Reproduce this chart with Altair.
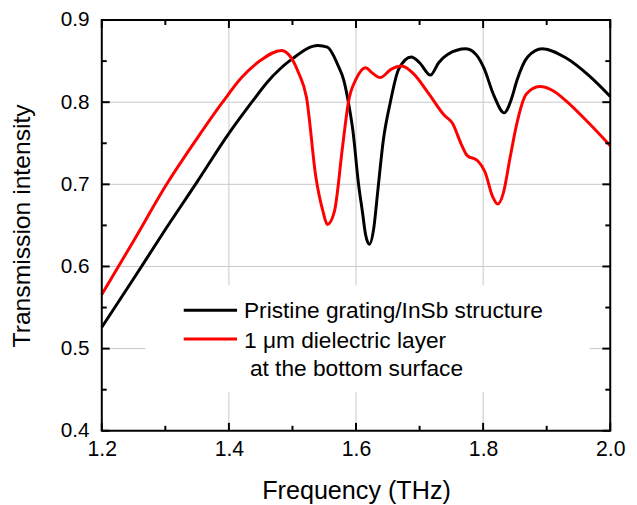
import altair as alt
import pandas as pd

# ---- data ----
black_freq = [1.200, 1.250, 1.300, 1.350, 1.400, 1.436, 1.460, 1.500, 1.540, 1.555,
              1.571, 1.581, 1.588, 1.595, 1.604, 1.610, 1.615, 1.621, 1.628, 1.634,
              1.643, 1.654, 1.667, 1.687, 1.700, 1.717, 1.730, 1.744, 1.773, 1.790,
              1.801, 1.817, 1.833, 1.845, 1.853, 1.870, 1.893, 1.930, 1.967, 2.000]
black_trans = [0.526, 0.585, 0.645, 0.703, 0.762, 0.800, 0.824, 0.853, 0.869, 0.867,
               0.846, 0.826, 0.800, 0.766, 0.700, 0.667, 0.639, 0.627, 0.647, 0.690,
               0.754, 0.800, 0.840, 0.855, 0.848, 0.833, 0.848, 0.858, 0.865, 0.857,
               0.842, 0.808, 0.787, 0.805, 0.826, 0.855, 0.865, 0.854, 0.832, 0.807]

red_freq = [1.200, 1.250, 1.302, 1.350, 1.390, 1.420, 1.450, 1.483, 1.498,
            1.510, 1.522, 1.537, 1.548, 1.555, 1.566, 1.579, 1.588, 1.600, 1.615,
            1.625, 1.638, 1.655, 1.672, 1.690, 1.713, 1.739, 1.752, 1.765, 1.775,
            1.791, 1.803, 1.815, 1.823, 1.832, 1.843, 1.853, 1.868, 1.889, 1.910,
            1.930, 1.967, 2.000]
red_trans = [0.566, 0.631, 0.700, 0.756, 0.800, 0.830, 0.851, 0.863, 0.854,
             0.835, 0.806, 0.708, 0.667, 0.651, 0.667, 0.747, 0.800, 0.828, 0.842,
             0.836, 0.830, 0.840, 0.844, 0.835, 0.812, 0.784, 0.774, 0.750, 0.735,
             0.729, 0.715, 0.685, 0.676, 0.690, 0.735, 0.774, 0.810, 0.819, 0.814,
             0.802, 0.774, 0.747]

legend_lines = ["Pristine grating/InSb structure", "1 \u03bcm dielectric layer", "at the bottom surface"]
series_colors = ["black", "#ff0000"]

x_major = [1.2, 1.4, 1.6, 1.8, 2.0]
x_minor = [1.3, 1.5, 1.7, 1.9]
y_major = [0.4, 0.5, 0.6, 0.7, 0.8, 0.9]
y_minor = [0.45, 0.55, 0.65, 0.75, 0.85]

# ---- layout / style ----
W, H = 515, 416
FONT = "Liberation Sans"
GRID = "#c8c8c8"

xs = alt.Scale(domain=[1.2, 2.0], nice=False, zero=False)
ys = alt.Scale(domain=[0.4, 0.9], nice=False, zero=False)

xaxis = alt.Axis(values=x_major, format=".1f", grid=False, ticks=False, domain=False,
                 labelFont=FONT, labelFontSize=21.5, labelColor="black", labelPadding=8,
                 labelFlush=False, labelOverlap=False, labelBound=False,
                 title="Frequency (THz)", titleFont=FONT, titleFontSize=25.5,
                 titleFontWeight="normal", titleColor="black", titleY=69,
                 titleBaseline="alphabetic")
yaxis = alt.Axis(values=y_major, format=".1f", grid=False, ticks=False, domain=False,
                 labelFont=FONT, labelFontSize=21, labelColor="black", labelPadding=13,
                 labelOverlap=False, labelBound=False, labelFlush=False,
                 title="Transmission intensity", titleFont=FONT, titleFontSize=25,
                 titleFontWeight="normal", titleColor="black", titleX=-73, titleY=H / 2,
                 titleBaseline="alphabetic", titleAngle=270)


def X():
    return alt.X("freq:Q", scale=xs, axis=xaxis)


def Y():
    return alt.Y("trans:Q", scale=ys, axis=yaxis)


df_black = pd.DataFrame({"freq": black_freq, "trans": black_trans})
df_red = pd.DataFrame({"freq": red_freq, "trans": red_trans})
one = pd.DataFrame({"a": [0]})

grid_x = pd.DataFrame({"freq": [v for v in x_major if 1.2 < v < 2.0]})
grid_y = pd.DataFrame({"trans": [v for v in y_major if 0.4 < v < 0.9]})

layers = []
layers.append(alt.Chart(grid_x).mark_rule(color=GRID, strokeWidth=1).encode(x=X()))
layers.append(alt.Chart(grid_y).mark_rule(color=GRID, strokeWidth=1).encode(y=Y()))

# legend background (covers grid)
layers.append(alt.Chart(one).mark_rect(fill="white").encode(
    x=alt.value(44), x2=alt.value(494), y=alt.value(269), y2=alt.value(377)))

# curves
layers.append(alt.Chart(df_black).mark_line(color=series_colors[0], strokeWidth=3,
                                            interpolate="monotone").encode(x=X(), y=Y()))
layers.append(alt.Chart(df_red).mark_line(color=series_colors[1], strokeWidth=3,
                                          interpolate="monotone").encode(x=X(), y=Y()))

# ticks (inward, mirrored)
for vals, ln in ((x_major, 8), (x_minor, 5)):
    d = pd.DataFrame({"freq": vals})
    layers.append(alt.Chart(d).mark_rule(color="black", strokeWidth=2).encode(
        x=X(), y=alt.value(H), y2=alt.value(H - ln)))
    layers.append(alt.Chart(d).mark_rule(color="black", strokeWidth=2).encode(
        x=X(), y=alt.value(0), y2=alt.value(ln)))
for vals, ln in ((y_major, 8), (y_minor, 5)):
    d = pd.DataFrame({"trans": vals})
    layers.append(alt.Chart(d).mark_rule(color="black", strokeWidth=2).encode(
        y=Y(), x=alt.value(0), x2=alt.value(ln)))
    layers.append(alt.Chart(d).mark_rule(color="black", strokeWidth=2).encode(
        y=Y(), x=alt.value(W), x2=alt.value(W - ln)))

# frame
layers.append(alt.Chart(one).mark_rect(filled=False, stroke="black", strokeWidth=2).encode(
    x=alt.value(0), x2=alt.value(W), y=alt.value(0), y2=alt.value(H)))

# legend
layers.append(alt.Chart(one).mark_rule(color=series_colors[0], strokeWidth=3).encode(
    x=alt.value(83), x2=alt.value(137), y=alt.value(294)))
layers.append(alt.Chart(one).mark_rule(color=series_colors[1], strokeWidth=3).encode(
    x=alt.value(83), x2=alt.value(137), y=alt.value(323)))
for txt, tx, ty in ((legend_lines[0], 144, 302), (legend_lines[1], 144, 332),
                    (legend_lines[2], 150, 361)):
    layers.append(alt.Chart(one).mark_text(align="left", baseline="alphabetic", font=FONT,
                                           fontSize=23, color="black").encode(
        x=alt.value(tx), y=alt.value(ty), text=alt.value(txt)))

chart = alt.layer(*layers).properties(
    width=W, height=H,
    autosize=alt.AutoSizeParams(type="none"),
    padding={"left": 95, "top": 9, "right": 19, "bottom": 72},
    background="white",
).configure_view(stroke=None)

chart.save("out.html", embed_options={"renderer": "svg", "actions": False})
